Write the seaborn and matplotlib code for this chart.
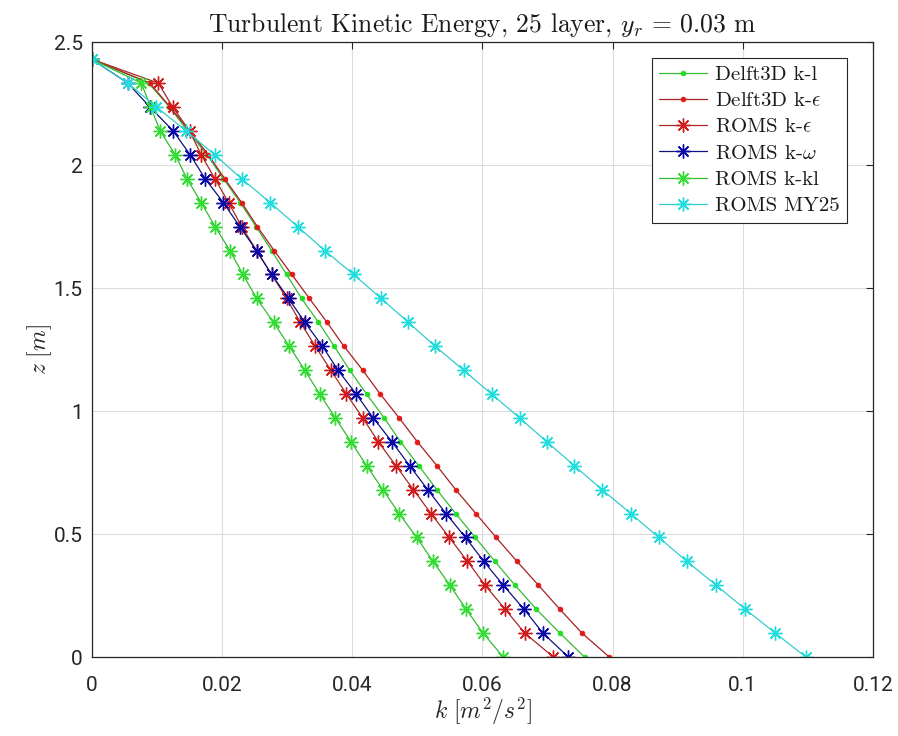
import matplotlib
matplotlib.use("Agg")
import matplotlib.pyplot as plt
import seaborn as sns
import pandas as pd

# Vertical levels (m), bottom to surface
z_levels = [0.000, 0.097, 0.194, 0.292, 0.389, 0.486, 0.583, 0.680, 0.778,
            0.875, 0.972, 1.069, 1.166, 1.264, 1.361, 1.458, 1.555, 1.652,
            1.750, 1.847, 1.944, 2.041, 2.138, 2.236, 2.333, 2.430]

# Turbulent kinetic energy profiles (m^2/s^2)
delft_kl = [0.0757, 0.0719, 0.0683, 0.0650, 0.0619, 0.0589, 0.0559, 0.0530,
            0.0502, 0.0474, 0.0449, 0.0422, 0.0396, 0.0372, 0.0348, 0.0322,
            0.0299, 0.0276, 0.0252, 0.0228, 0.0202, 0.0177, 0.0147, 0.0119,
            0.0087, 0.0]
delft_keps = [0.0795, 0.0753, 0.0719, 0.0686, 0.0653, 0.0621, 0.0590, 0.0559,
              0.0530, 0.0500, 0.0472, 0.0443, 0.0416, 0.0387, 0.0361, 0.0334,
              0.0307, 0.0280, 0.0254, 0.0230, 0.0204, 0.0179, 0.0150, 0.0120,
              0.0089, 0.0]
roms_keps = [0.0709, 0.0665, 0.0635, 0.0604, 0.0577, 0.0549, 0.0521, 0.0494,
             0.0467, 0.0440, 0.0416, 0.0391, 0.0367, 0.0343, 0.0320, 0.0299,
             0.0276, 0.0253, 0.0230, 0.0210, 0.0189, 0.0168, 0.0150, 0.0124,
             0.0102, 0.0]
roms_kw = [0.0732, 0.0693, 0.0664, 0.0632, 0.0602, 0.0574, 0.0544, 0.0516,
           0.0488, 0.0461, 0.0432, 0.0406, 0.0378, 0.0354, 0.0327, 0.0302,
           0.0276, 0.0253, 0.0227, 0.0202, 0.0174, 0.0151, 0.0125, 0.0089,
           0.0055, 0.0]
roms_kkl = [0.0632, 0.0601, 0.0575, 0.0550, 0.0524, 0.0499, 0.0472, 0.0447,
            0.0422, 0.0398, 0.0374, 0.0350, 0.0327, 0.0303, 0.0279, 0.0253,
            0.0232, 0.0212, 0.0189, 0.0168, 0.0146, 0.0128, 0.0105, 0.0090,
            0.0076, 0.0]
roms_my25 = [0.1097, 0.1050, 0.1004, 0.0959, 0.0914, 0.0871, 0.0828, 0.0784,
             0.0741, 0.0699, 0.0657, 0.0614, 0.0571, 0.0527, 0.0486, 0.0444,
             0.0402, 0.0358, 0.0316, 0.0274, 0.0230, 0.0189, 0.0145, 0.0099,
             0.0055, 0.0]

labels = [r"Delft3D k-l", r"Delft3D k-$\epsilon$", r"ROMS k-$\epsilon$",
          r"ROMS k-$\omega$", r"ROMS k-kl", r"ROMS MY25"]
series = [delft_kl, delft_keps, roms_keps, roms_kw, roms_kkl, roms_my25]

sns.set_theme(style="whitegrid")
plt.rcParams["font.family"] = ["Roboto", "DejaVu Sans"]
plt.rcParams["mathtext.fontset"] = "cm"
plt.rcParams["axes.unicode_minus"] = False

asterisk = (8, 2, 0)
styles = [
    dict(color="#22dd22", marker="o", markersize=3.5),
    dict(color="#e01818", marker="o", markersize=3.5),
    dict(color="#d01c1c", marker=asterisk, markersize=10, markeredgewidth=1.0),
    dict(color="#0a0aa8", marker=asterisk, markersize=10, markeredgewidth=1.0),
    dict(color="#33dd33", marker=asterisk, markersize=10, markeredgewidth=1.0),
    dict(color="#22dddd", marker=asterisk, markersize=10, markeredgewidth=1.0),
]
line_colors = ["#33bb33", "#a82020", "#a82828", "#101080", "#33bb33", "#33cccc"]

fig = plt.figure(figsize=(8.98, 7.36), dpi=100)
ax = fig.add_axes([0.1024, 0.1073, 0.8697, 0.8356])

for vals, lab, st, lc in zip(series, labels, styles, line_colors):
    df = pd.DataFrame({"k": vals, "z": z_levels})
    sns.lineplot(data=df, x="k", y="z", sort=False, estimator=None, ax=ax,
                 label=lab, linewidth=0.9, color=lc,
                 marker=st["marker"], markersize=st["markersize"],
                 markeredgewidth=st.get("markeredgewidth", 0.5),
                 markeredgecolor=st["color"], markerfacecolor=st["color"])

ax.set_xlim(0, 0.12)
ax.set_ylim(0, 2.5)
ax.set_xticks([0, 0.02, 0.04, 0.06, 0.08, 0.1, 0.12])
ax.set_xticklabels(["0", "0.02", "0.04", "0.06", "0.08", "0.1", "0.12"])
ax.set_yticks([0, 0.5, 1, 1.5, 2, 2.5])
ax.set_yticklabels(["0", "0.5", "1", "1.5", "2", "2.5"])
ax.tick_params(axis="both", labelsize=15, colors="#262626", direction="in",
               length=5, width=0.8, top=True, right=True)
ax.tick_params(axis="x", pad=14)
ax.tick_params(axis="y", pad=6.5)
ax.grid(True, color="#dcdcdc", linewidth=0.8)
for sp in ax.spines.values():
    sp.set_color("#262626")
    sp.set_linewidth(0.9)
ax.set_facecolor("white")

ax.set_xlabel(r"$k\ [m^2/s^2]$", fontsize=17, color="#262626", labelpad=0)
ax.set_ylabel(r"$z\ [m]$", fontsize=17, color="#262626", labelpad=0)
ax.set_title(r"Turbulent Kinetic Energy, 25 layer, $y_r\,=\,0.03$ m",
             fontsize=18.5, family="cmr10", color="#1a1a1a", pad=7)

leg = ax.legend(loc="upper right", bbox_to_anchor=(0.967, 0.974),
                borderaxespad=0, fancybox=False, framealpha=1,
                edgecolor="#262626", handlelength=2.3, handletextpad=0.4,
                labelspacing=0.37, borderpad=0.35,
                prop={"family": "cmr10", "size": 15})
leg.get_frame().set_linewidth(0.8)
for t in leg.get_texts():
    t.set_color("#1a1a1a")

fig.savefig("out.png", dpi=100, facecolor="white")
